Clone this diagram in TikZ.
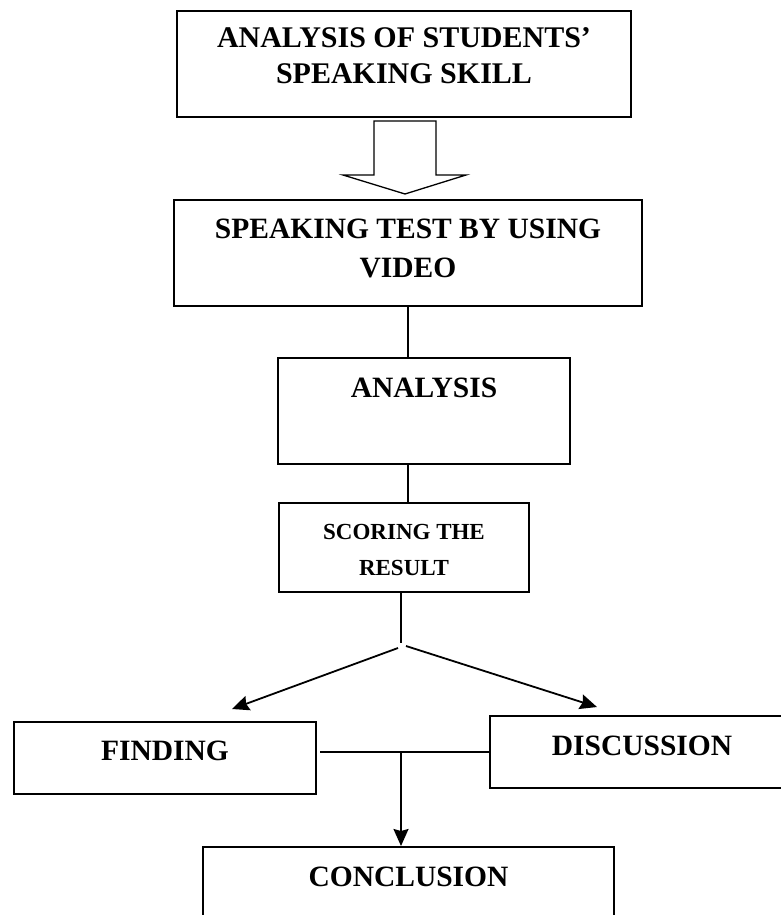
\documentclass[tikz,border=0pt]{standalone}
\usepackage{fontspec}
\setmainfont{Liberation Serif}
\usetikzlibrary{arrows.meta,calc}
\begin{document}
\begin{tikzpicture}[x=1pt,y=-1pt,>={Stealth[length=17pt,width=15pt,inset=2pt]},
  box/.style={draw,line width=2pt,anchor=north west,inner xsep=0pt,inner ysep=0pt,
    align=center,font=\bfseries\fontsize{29.5}{36}\selectfont},
  link/.style={line width=1.8pt}]
\useasboundingbox (0,0) rectangle (780,915);
% kotak-kotak
\node[box,minimum width=454,text height=73,text depth=33,
  font=\bfseries\fontsize{30}{36}\selectfont] (top) at (176,10)
  {ANALYSIS OF STUDENTS'\\SPEAKING SKILL};
\node[box,minimum width=468,text height=77,text depth=29,
  font=\bfseries\fontsize{29.5}{39}\selectfont] (speak) at (173,199)
  {SPEAKING TEST BY USING\\VIDEO};
\node[box,minimum width=292,text height=39,text depth=67] (anal) at (277,357) {ANALYSIS};
\node[box,minimum width=250,text height=72,text depth=17,
  font=\bfseries\fontsize{23}{36}\selectfont] (score) at (278,502)
  {SCORING THE\\RESULT};
\node[box,minimum width=302,text height=38,text depth=34] (find) at (13,721) {FINDING};
\node[box,minimum width=304,text height=39,text depth=33] (disc) at (489,715) {DISCUSSION};
\node[box,minimum width=411,text height=39,text depth=60] (concl) at (202,846) {CONCLUSION};
% panah kosong
\draw[line width=1.3pt] ($(top.south)+(-30,3)$) -- ++(0,54) -- ++(-31,0)
  -- ($(top.south)+(1,76)$) -- ($(top.south)+(62,57)$) -- ++(-30,0) -- ++(0,-54) -- cycle;
% garis penghubung
\coordinate (fork) at (401,643);
\coordinate (findtip) at (232,709);
\coordinate (disctip) at (597,707);
\draw[link] (speak.south) -- (speak.south |- anal.north);
\draw[link] (speak.south |- anal.south) -- (speak.south |- score.north);
\draw[link] (fork |- score.south) -- (fork);
\draw[link,->] ($(fork)+(-3,5)$) -- (findtip);
\draw[link,->] ($(fork)+(5,3)$) -- (disctip);
\draw[link] ([xshift=3pt]find.east |- disc.west) -- (disc.west);
\coordinate (join) at (fork |- disc.west);
\draw[link,->] (join) -- (join |- concl.north);
\end{tikzpicture}
\end{document}
